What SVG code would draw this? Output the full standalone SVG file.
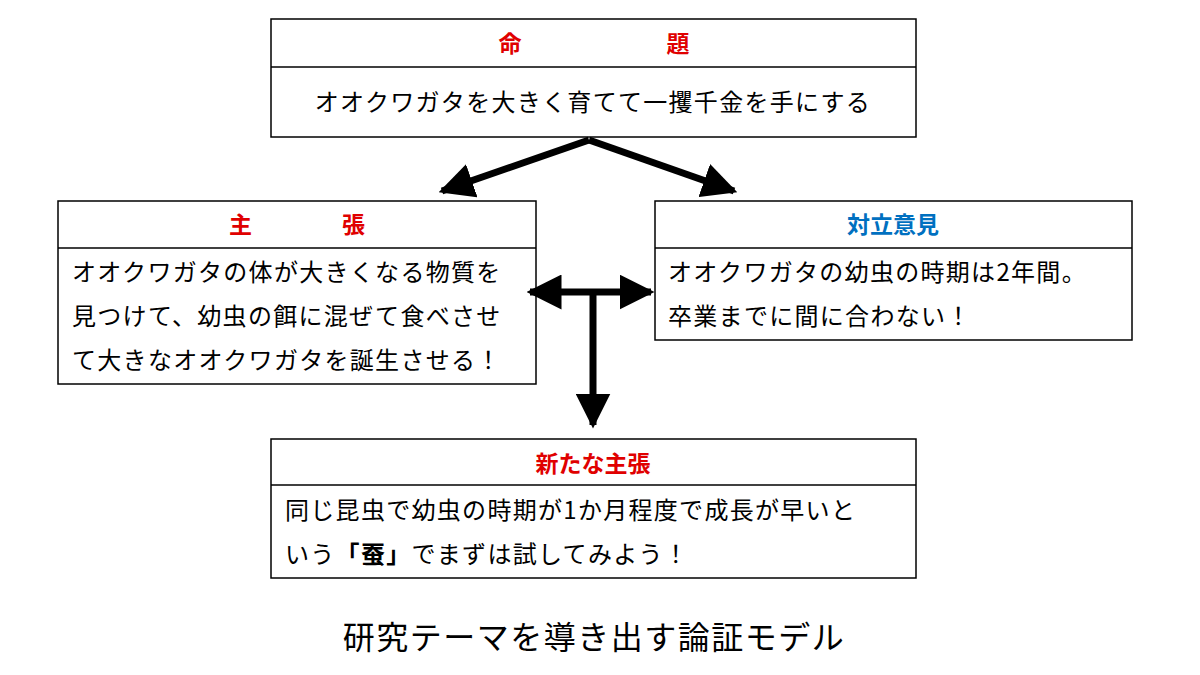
<svg xmlns="http://www.w3.org/2000/svg" width="1200" height="675" viewBox="0 0 1200 675">
<style>
.box{fill:#fff;stroke:#000;stroke-width:1.5}
.t{font-family:"Noto Sans CJK JP","Noto Sans",sans-serif;font-size:24px;letter-spacing:1.3px;fill:#000}
.h{font-family:"Noto Sans CJK JP","Noto Sans",sans-serif;font-size:23px;font-weight:bold;text-anchor:middle}
.c{stroke:#000;stroke-width:7;fill:none}
</style>
<defs>
<marker id="a" viewBox="0 0 10 10" refX="9" refY="5" markerWidth="5" markerHeight="5" orient="auto-start-reverse" markerUnits="strokeWidth"><path d="M0,0 L10,5 L0,10 z" fill="#000"/></marker>
</defs>
<rect width="1200" height="675" fill="#fff"/>
<g id="n1"><rect class="box" x="271" y="19" width="645" height="118"/><line class="box" x1="271" y1="67" x2="916" y2="67"/>
<text class="h" x="594" y="52" fill="#e00000">命<tspan dx="145">題</tspan></text>
<text class="t" x="593" y="111" text-anchor="middle">オオクワガタを大きく育てて一攫千金を手にする</text></g>
<g id="n2"><rect class="box" x="58" y="201" width="478" height="183"/><line class="box" x1="58" y1="248" x2="536" y2="248"/>
<text class="h" x="297" y="233" fill="#e00000">主<tspan dx="90">張</tspan></text>
<text class="t" x="72" y="281">オオクワガタの体が大きくなる物質を</text>
<text class="t" x="72" y="325">見つけて、幼虫の餌に混ぜて食べさせ</text>
<text class="t" x="72" y="369">て大きなオオクワガタを誕生させる！</text></g>
<g id="n3"><rect class="box" x="655" y="201" width="477" height="139"/><line class="box" x1="655" y1="248" x2="1132" y2="248"/>
<text class="h" x="893" y="233" fill="#0070c0">対立意見</text>
<text class="t" x="668" y="281">オオクワガタの幼虫の時期は2年間。</text>
<text class="t" x="668" y="325">卒業までに間に合わない！</text></g>
<g id="n4"><rect class="box" x="271" y="439" width="645" height="139"/><line class="box" x1="271" y1="485" x2="916" y2="485"/>
<text class="h" x="593" y="472" fill="#e00000">新たな主張</text>
<text class="t" x="285" y="519">同じ昆虫で幼虫の時期が1か月程度で成長が早いと</text>
<text class="t" x="285" y="563">いう<tspan font-weight="bold">「蚕」</tspan>でまずは試してみよう！</text></g>
<g id="connectors">
<path class="c" d="M589,140 L442,191" marker-end="url(#a)"/>
<path class="c" d="M589,140 L734,191" marker-end="url(#a)"/>
<path class="c" d="M530,292 L651,292" marker-start="url(#a)" marker-end="url(#a)"/>
<path class="c" d="M593,292 L593,425" marker-end="url(#a)"/>
</g>
<text x="594" y="649" text-anchor="middle" font-family="Noto Sans CJK JP,sans-serif" font-size="32" letter-spacing="1.5">研究テーマを導き出す論証モデル</text>
</svg>
